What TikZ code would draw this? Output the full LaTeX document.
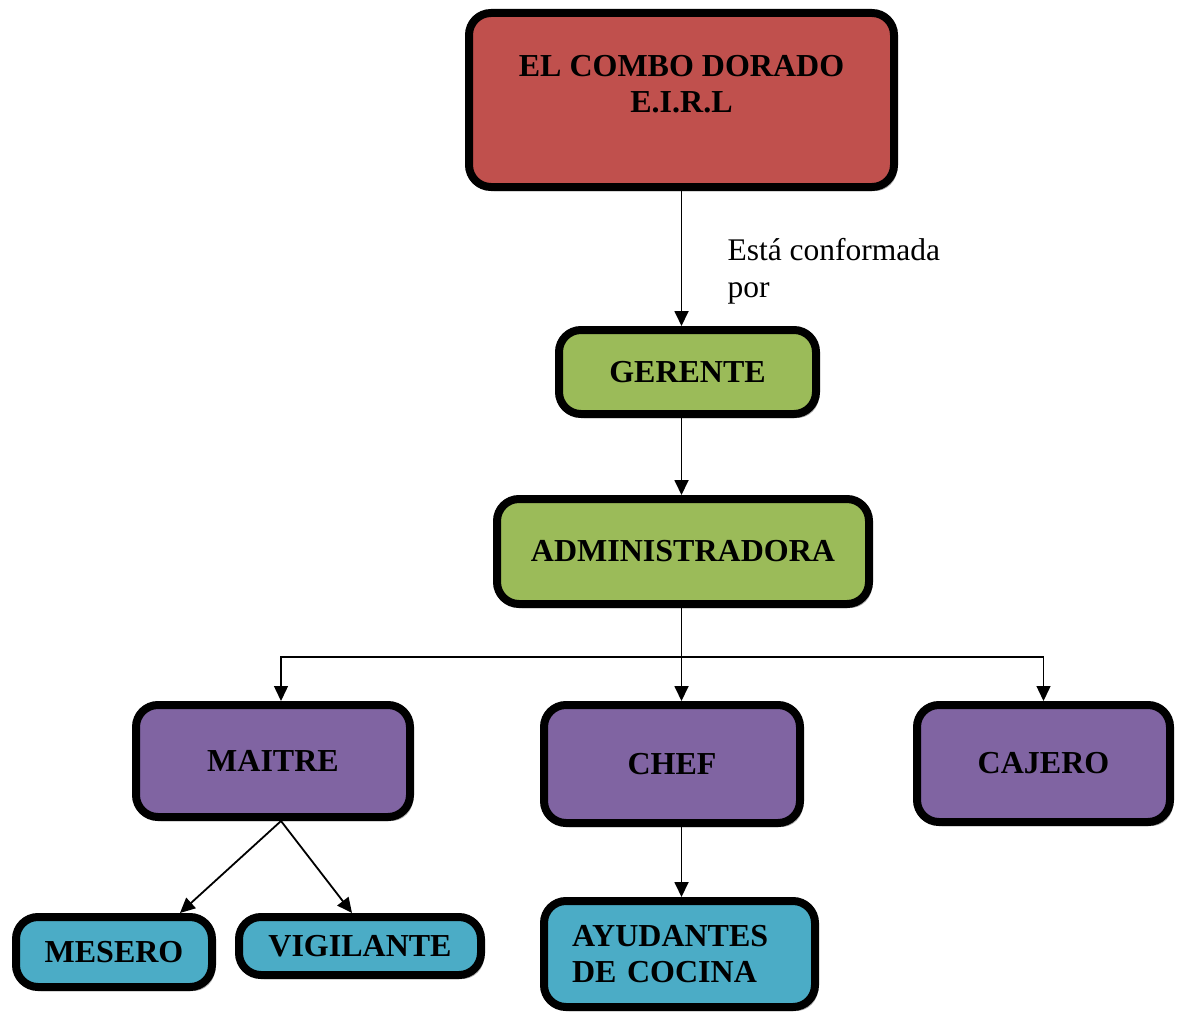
\documentclass[tikz,border=0pt]{standalone}
\usepackage{fontspec}
\setmainfont{Liberation Serif}
\usetikzlibrary{shapes,arrows.meta,shadows}
\definecolor{rojo}{HTML}{C0504D}
\definecolor{verde}{HTML}{9BBB59}
\definecolor{morado}{HTML}{8064A2}
\definecolor{celeste}{HTML}{4BACC6}
\tikzstyle{cargo} = [rectangle, draw, line width=8pt, rounded corners=22pt,
    align=center, font=\fontsize{32}{36}\selectfont\bfseries,
    drop shadow={shadow xshift=3pt, shadow yshift=-4pt, opacity=.35, fill=black}]
\tikzset{
  myarrow/.style={-{Triangle[width=14pt,length=15pt]}, line width=1.8pt},
	}

\begin{document}
\begin{tikzpicture}[x=1pt, y=-1pt]
    \useasboundingbox (0,0) rectangle (1180,1014);
    \node[cargo, fill=rojo, minimum width=425pt, minimum height=174pt](empresa) at (681.5,100)
      {\raisebox{13pt}[\height][\depth]{\begin{tabular}{@{}c@{}}EL COMBO DORADO\\E.I.R.L\end{tabular}}};
    \node[cargo, fill=verde, minimum width=257pt, minimum height=84pt](gerente) at (687.5,372){GERENTE};
    \draw[myarrow](empresa.south)--(empresa.south |- gerente.north);
    \node[font=\fontsize{31.5}{37}\selectfont, align=left, anchor=base west](conforma) at (724,297){Está conformada\\por};
    \node[cargo, fill=verde, minimum width=372pt, minimum height=105pt](admin) at (683,551.5){ADMINISTRADORA};
    \draw[myarrow](gerente.south -| empresa.south)--(admin.north -| empresa.south);
    \coordinate (bus) at (681.5,657);
    \node[cargo, fill=morado, minimum width=274pt, minimum height=112pt](maitre) at (273,761){MAITRE};
    \node[cargo, fill=morado, minimum width=256pt, minimum height=118pt](chef) at (672,764){CHEF};
    \node[cargo, fill=morado, minimum width=253pt, minimum height=117pt](cajero) at (1043.5,763.5){CAJERO};
    \draw[line width=1.8pt](admin.south -| empresa.south)--(bus);
    \draw[myarrow, line width=1.4pt](bus)-|([xshift=8pt]maitre.north);
    \draw[myarrow, line width=1.4pt](bus)-|(cajero.north);
    \draw[myarrow](bus)--(bus |- chef.north);
    \node[cargo, fill=celeste, minimum width=196pt, minimum height=70pt](mesero) at (114,952){MESERO};
    \node[cargo, fill=celeste, minimum width=242pt, minimum height=58pt](vigilante) at (360,946){VIGILANTE};
    \node[cargo, fill=celeste, minimum width=271pt, minimum height=106pt, text width=215pt, align=left](ayudantes) at (679.5,954){AYUDANTES\\DE COCINA};
    \draw[myarrow]([xshift=8pt]maitre.south)--([xshift=66pt]mesero.north);
    \draw[myarrow]([xshift=8pt]maitre.south)--([xshift=-8pt]vigilante.north);
    \draw[myarrow](bus |- chef.south)--(bus |- ayudantes.north);
  \end{tikzpicture}
\end{document}
